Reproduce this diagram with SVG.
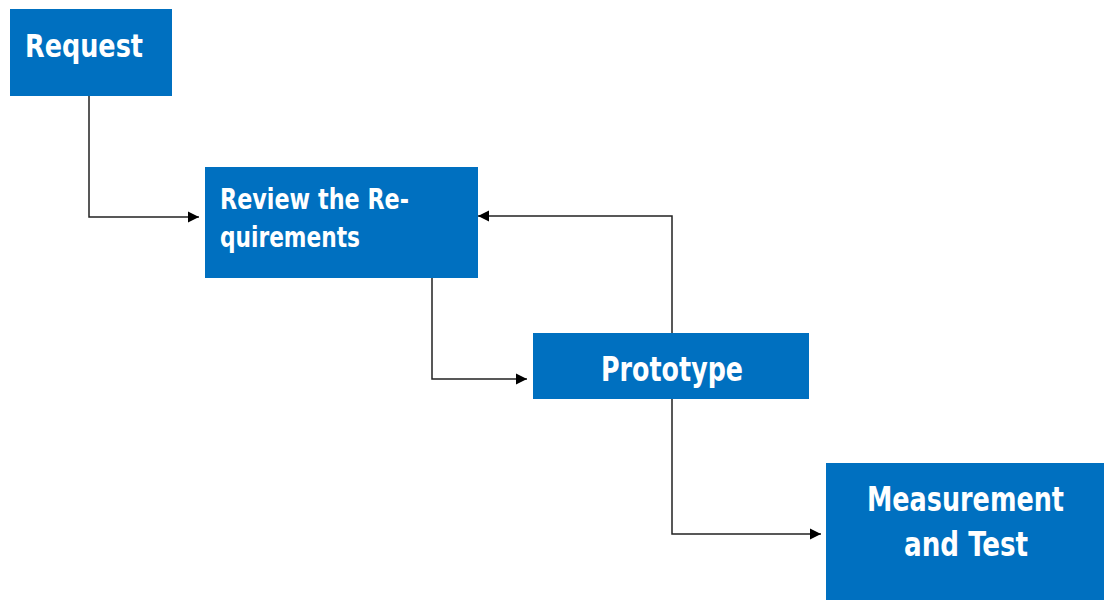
<svg xmlns="http://www.w3.org/2000/svg" width="1104" height="600" viewBox="0 0 1104 600">
<style>
.box{fill:#0070C0}
.t{fill:#fff;font-family:"DejaVu Sans Condensed","DejaVu Sans","Liberation Sans",sans-serif;font-weight:bold;font-stretch:condensed}
.c{fill:none;stroke:#222;stroke-width:1.5}
</style>
<defs>
<marker id="b" viewBox="0 0 10 10" refX="10" refY="5" markerWidth="11" markerHeight="12" orient="auto" markerUnits="userSpaceOnUse"><path d="M0,0L10,5L0,10z" fill="#000"/></marker>
</defs>
<rect width="1104" height="600" fill="#fff"/>
<g id="connectors">
<path class="c" d="M89,96V217H199" marker-end="url(#b)"/>
<path class="c" d="M432,270V379H527" marker-end="url(#b)"/>
<path class="c" d="M672,333V216H478" marker-end="url(#b)"/>
<path class="c" d="M672,399V534H821" marker-end="url(#b)"/>
</g>
<g id="request">
<rect class="box" x="10" y="9" width="162" height="87"/>
<text class="t" x="25" y="57" font-size="32" textLength="118" lengthAdjust="spacingAndGlyphs">Request</text>
</g>
<g id="review">
<rect class="box" x="205" y="167" width="273" height="111"/>
<text class="t" x="220" y="209" font-size="29" textLength="189" lengthAdjust="spacingAndGlyphs">Review the Re-</text>
<text class="t" x="220" y="247" font-size="29" textLength="140" lengthAdjust="spacingAndGlyphs">quirements</text>
</g>
<g id="prototype">
<rect class="box" x="533" y="333" width="276" height="66"/>
<text class="t" x="601" y="381" font-size="33" textLength="142" lengthAdjust="spacingAndGlyphs">Prototype</text>
</g>
<g id="measurement">
<rect class="box" x="826" y="463" width="278" height="137"/>
<text class="t" x="867" y="511" font-size="34" textLength="197" lengthAdjust="spacingAndGlyphs">Measurement</text>
<text class="t" x="904" y="556" font-size="34" textLength="124" lengthAdjust="spacingAndGlyphs">and Test</text>
</g>
</svg>
